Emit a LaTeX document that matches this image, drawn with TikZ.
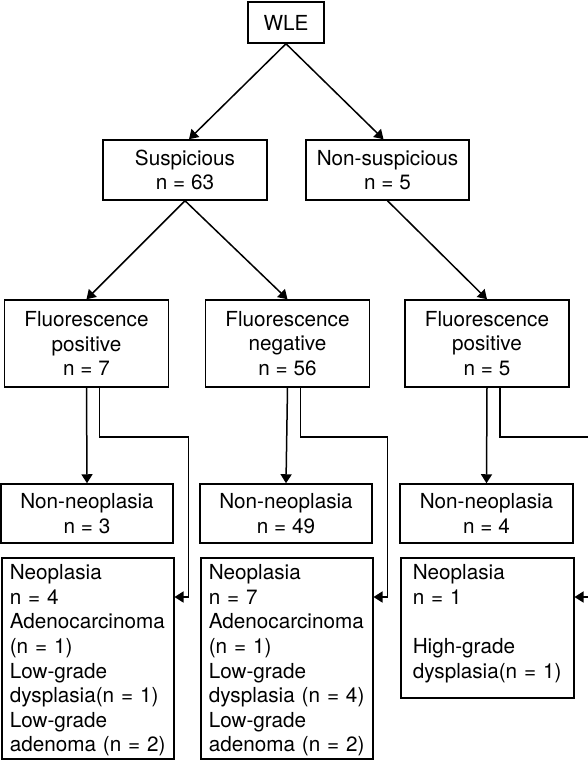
\documentclass[tikz,border=0pt]{standalone}
\usepackage{fontspec}
\setmainfont{TeX Gyre Heros}
\usetikzlibrary{arrows.meta, calc}

\begin{document}
\begin{tikzpicture}[x=1pt, y=-1pt, line width=1.5pt,
    font=\fontsize{20.7}{24.6}\selectfont,
    flowbox/.style={draw, align=center, inner sep=0pt, minimum width=164pt},
    listbox/.style={draw, align=left, anchor=north west, inner xsep=8pt, inner ysep=0pt,
        text width=156pt, text height=22pt, text depth=179pt},
    arr/.style={-{Triangle[length=9pt, width=11pt]}}]
    \useasboundingbox (0,0) rectangle (588,766);
    % first two levels
    \node[flowbox, minimum width=76pt, minimum height=41pt] (wle) at (286,22.5) {WLE};
    \node[flowbox, minimum height=60pt] (susp) at (185,170) {Suspicious\\n = 63};
    \node[flowbox, minimum width=163pt, minimum height=60pt] (nsusp) at (387.5,170) {Non-suspicious\\n = 5};
    % fluorescence
    \node[flowbox, minimum height=87pt] (fpos1) at (86.5,343.5) {Fluorescence\\positive\\n = 7};
    \node[flowbox, minimum height=87pt] (fneg) at (287.5,343.5) {Fluorescence\\negative\\n = 56};
    \node[flowbox, minimum height=87pt] (fpos2) at (487,343.5) {Fluorescence\\positive\\n = 5};
    % histology
    \node[flowbox, minimum width=172pt, minimum height=59pt] (nn1) at (87,513.5) {Non-neoplasia\\n = 3};
    \node[flowbox, minimum width=172pt, minimum height=59pt] (nn2) at (286,513.5) {Non-neoplasia\\n = 49};
    \node[flowbox, minimum width=173pt, minimum height=59pt] (nn3) at (486.5,513.5) {Non-neoplasia\\n = 4};
    \node[listbox] (neo1) at (1,557) {Neoplasia\\n = 4\\Adenocarcinoma\\(n = 1)\\Low-grade\\dysplasia(n = 1)\\Low-grade\\adenoma (n = 2)};
    \node[listbox] (neo2) at (200,557) {Neoplasia\\n = 7\\Adenocarcinoma\\(n = 1)\\Low-grade\\dysplasia (n = 4)\\Low-grade\\adenoma (n = 2)};
    \node[listbox, inner xsep=12pt, text width=149pt, text depth=118pt] (neo3) at (400,557) {Neoplasia\\n = 1\\[24.6pt]High-grade\\dysplasia(n = 1)};

    \draw[arr] (wle.south) -- ($(susp.north)+(4,0)$);
    \draw[arr] (wle.south) -- ($(nsusp.north)+(-4,0)$);
    \draw[arr] (susp.south) -- (fpos1.north);
    \draw[arr] (susp.south) -- (fneg.north);
    \draw[arr] (nsusp.south) -- (fpos2.north);

    \foreach \f/\n/\m in {fpos1/nn1/neo1, fneg/nn2/neo2, fpos2/nn3/neo3} {
        \draw[arr] (\f.south) -- (\n.north);
        \draw[arr] ($(\f.south)+(13,0)$) -- ++(0,49) -| ($(\m.north east)+(14,40)$) -- ($(\m.north east)+(0,40)$);
    }
\end{tikzpicture}
\end{document}
